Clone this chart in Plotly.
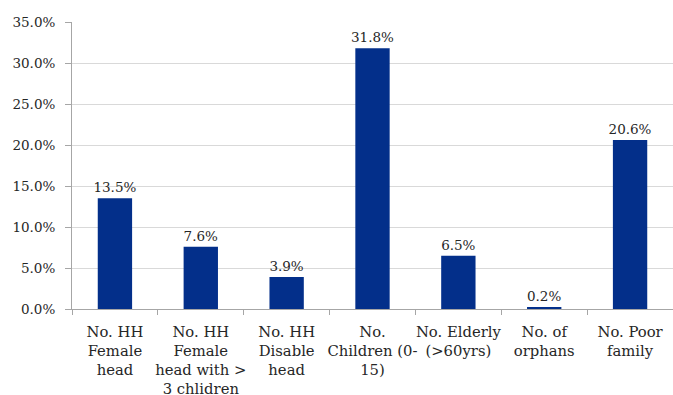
import plotly.graph_objects as go

categories = [
    "No. HH<br>Female<br>head",
    "No. HH<br>Female<br>head with ><br>3 chlidren",
    "No. HH<br>Disable<br>head",
    "No.<br>Children (0-<br>15)",
    "No. Elderly<br>(>60yrs)",
    "No. of<br>orphans",
    "No. Poor<br>family",
]
shares = [13.5, 7.6, 3.9, 31.8, 6.5, 0.2, 20.6]
y_ticks = [0, 5, 10, 15, 20, 25, 30, 35]
y_tick_labels = [f"{v:.1f}%" for v in y_ticks]

font_family = "DejaVu Serif"
text_color = "#262626"

fig = go.Figure(
    go.Bar(
        x=categories,
        y=shares,
        marker=dict(color="#032F8A", line=dict(width=0)),
        width=0.4,
        text=[f"{v:.1f}%" for v in shares],
        textposition="outside",
        constraintext="none",
        textfont=dict(family=font_family, size=13.5, color=text_color),
        cliponaxis=False,
    )
)

fig.update_layout(
    width=673,
    height=395,
    margin=dict(l=72, r=0, t=22, b=86),
    paper_bgcolor="white",
    plot_bgcolor="white",
    showlegend=False,
    font=dict(family=font_family, size=14, color=text_color),
    bargap=0.6,
)

fig.update_xaxes(
    type="category",
    tickson="boundaries",
    tickangle=0,
    automargin=False,
    ticks="outside",
    ticklen=5,
    ticklabelstandoff=9,
    tickcolor="#A6A6A6",
    showline=True,
    linecolor="#A6A6A6",
    linewidth=1,
    showgrid=False,
    tickfont=dict(family=font_family, size=14.8, color=text_color),
)

fig.update_yaxes(
    range=[0, 35],
    tickvals=y_ticks,
    ticktext=y_tick_labels,
    automargin=False,
    ticks="outside",
    ticklen=6,
    ticklabelstandoff=7,
    tickcolor="#A6A6A6",
    showline=True,
    linecolor="#A6A6A6",
    linewidth=1,
    showgrid=True,
    gridcolor="#D9D9D9",
    gridwidth=1,
    zeroline=False,
    tickfont=dict(family=font_family, size=13.5, color=text_color),
)

fig.write_html("out.html")
